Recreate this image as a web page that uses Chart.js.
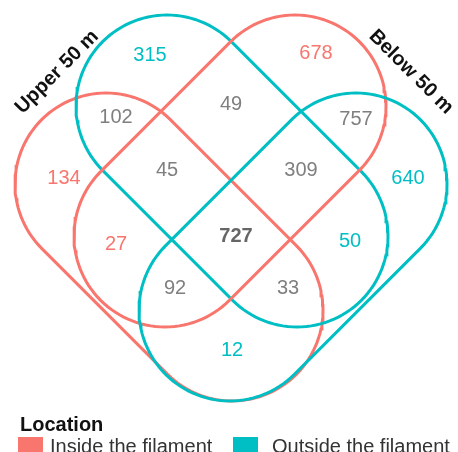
<!DOCTYPE html>
<html>
<head>
<meta charset="utf-8">
<script src="https://cdn.jsdelivr.net/npm/chart.js@4.4.0/dist/chart.umd.min.js"></script>
<style>
  html, body { margin: 0; padding: 0; background: #fff; overflow: hidden; }
  #wrap { position: relative; width: 458px; height: 452px; font-family: "Liberation Sans", Arial, sans-serif; }
  #legend { position: absolute; left: 0; top: 0; width: 458px; height: 452px; pointer-events: none; }
  .leg-title { position: absolute; left: 20px; top: 413px; font-size: 20px; font-weight: bold; color: #111; }
  .leg-box { position: absolute; top: 437px; width: 25px; height: 25px; }
  .leg-text { position: absolute; top: 435px; font-size: 20px; color: #333; white-space: nowrap; }
</style>
</head>
<body>
<div id="wrap">
  <canvas id="venn" width="458" height="452"></canvas>
  <div id="legend"></div>
</div>
<script>
// Sets (draw order: first is at the bottom)
const setNames = ['Upper 50 m / Inside', 'Upper 50 m / Outside', 'Below 50 m / Inside', 'Below 50 m / Outside'];
const setLocation = ['Inside the filament', 'Outside the filament', 'Inside the filament', 'Outside the filament'];
const groupLabels = ['Upper 50 m', 'Below 50 m'];
const legendTitle = 'Location';
const legendLabels = ['Inside the filament', 'Outside the filament'];

// Region counts
const regionCounts = [315, 678, 102, 49, 757, 134, 45, 309, 640, 27, 727, 50, 92, 33, 12];
const centreRegion = 10; // shared by all four sets

// Layout (canvas units)
const shapeStart = [[106, 184], [167, 106], [295, 106], [356, 184]];
const shapeEnd = [[232, 310], [297, 236], [165, 236], [230, 310]];
const shapeRadius = 91;
const regionX = [150, 316, 116, 231, 356, 64, 167, 301, 408, 116, 236, 350, 175, 288, 232];
const regionY = [55, 53, 117, 104, 119, 178, 170, 170, 178, 244, 236, 241, 288, 288, 350];
const groupPos = [[57, 72, -45], [411, 72, 45]];

const RED = '#F8766D';
const TEAL = '#00BFC4';
const GRAY = '#7F7F7F';
const locationColors = { 'Inside the filament': RED, 'Outside the filament': TEAL };
const regionColors = [TEAL, RED, GRAY, GRAY, GRAY, RED, GRAY, GRAY, TEAL, RED, '#666666', TEAL, GRAY, GRAY, TEAL];

// outline of a rounded bar between two end centres
function stadium(a, b, r) {
  const dx = b[0] - a[0], dy = b[1] - a[1];
  const len = Math.hypot(dx, dy);
  const nAng = Math.atan2(dx / len, -dy / len);
  const pts = [];
  const steps = 60;
  for (let i = 0; i <= steps; i++) {
    const t = nAng - Math.PI * i / steps;
    pts.push({ x: b[0] + r * Math.cos(t), y: b[1] + r * Math.sin(t) });
  }
  for (let i = 0; i <= steps; i++) {
    const t = nAng - Math.PI - Math.PI * i / steps;
    pts.push({ x: a[0] + r * Math.cos(t), y: a[1] + r * Math.sin(t) });
  }
  pts.push(pts[0]);
  return pts;
}

const setDatasets = setNames.map((name, i) => ({
  label: name,
  data: stadium(shapeStart[i], shapeEnd[i], shapeRadius),
  showLine: true,
  borderColor: locationColors[setLocation[i]],
  borderWidth: 3,
  pointRadius: 0,
  fill: false,
  tension: 0,
  order: setNames.length - i + 1
}));

const countDataset = {
  label: 'counts',
  data: regionCounts.map((c, i) => ({ x: regionX[i], y: regionY[i] })),
  pointRadius: 0,
  showLine: false,
  order: 0
};

const textPlugin = {
  id: 'vennText',
  afterDatasetsDraw(chart) {
    const ctx = chart.ctx;
    const xs = chart.scales.x, ys = chart.scales.y;
    const meta = chart.getDatasetMeta(chart.data.datasets.length - 1);
    ctx.save();
    ctx.textAlign = 'center';
    ctx.textBaseline = 'middle';
    meta.data.forEach((pt, i) => {
      const bold = i === centreRegion;
      ctx.font = (bold ? 'bold ' : '') + '20px "Liberation Sans", Arial, sans-serif';
      ctx.fillStyle = regionColors[i];
      ctx.fillText(String(regionCounts[i]), pt.x, pt.y);
    });
    ctx.font = 'bold 20px "Liberation Sans", Arial, sans-serif';
    ctx.fillStyle = '#111';
    groupLabels.forEach((g, i) => {
      ctx.save();
      ctx.translate(xs.getPixelForValue(groupPos[i][0]), ys.getPixelForValue(groupPos[i][1]));
      ctx.rotate(groupPos[i][2] * Math.PI / 180);
      ctx.fillText(g, 0, 0);
      ctx.restore();
    });
    ctx.restore();
  }
};

new Chart(document.getElementById('venn'), {
  type: 'scatter',
  data: { datasets: [...setDatasets, countDataset] },
  options: {
    responsive: false,
    animation: false,
    devicePixelRatio: 1,
    layout: { padding: 0 },
    scales: {
      x: { type: 'linear', min: 0, max: 458, display: false },
      y: { type: 'linear', min: 0, max: 452, reverse: true, display: false }
    },
    plugins: {
      legend: { display: false },
      tooltip: { enabled: false }
    }
  },
  plugins: [textPlugin]
});

// Legend
const legend = document.getElementById('legend');
const title = document.createElement('div');
title.className = 'leg-title';
title.textContent = legendTitle;
legend.appendChild(title);
const boxX = [18, 233];
const textX = [50, 272];
legendLabels.forEach((lab, i) => {
  const box = document.createElement('div');
  box.className = 'leg-box';
  box.style.left = boxX[i] + 'px';
  box.style.background = locationColors[lab];
  legend.appendChild(box);
  const txt = document.createElement('div');
  txt.className = 'leg-text';
  txt.style.left = textX[i] + 'px';
  txt.textContent = lab;
  legend.appendChild(txt);
});
</script>
</body>
</html>
